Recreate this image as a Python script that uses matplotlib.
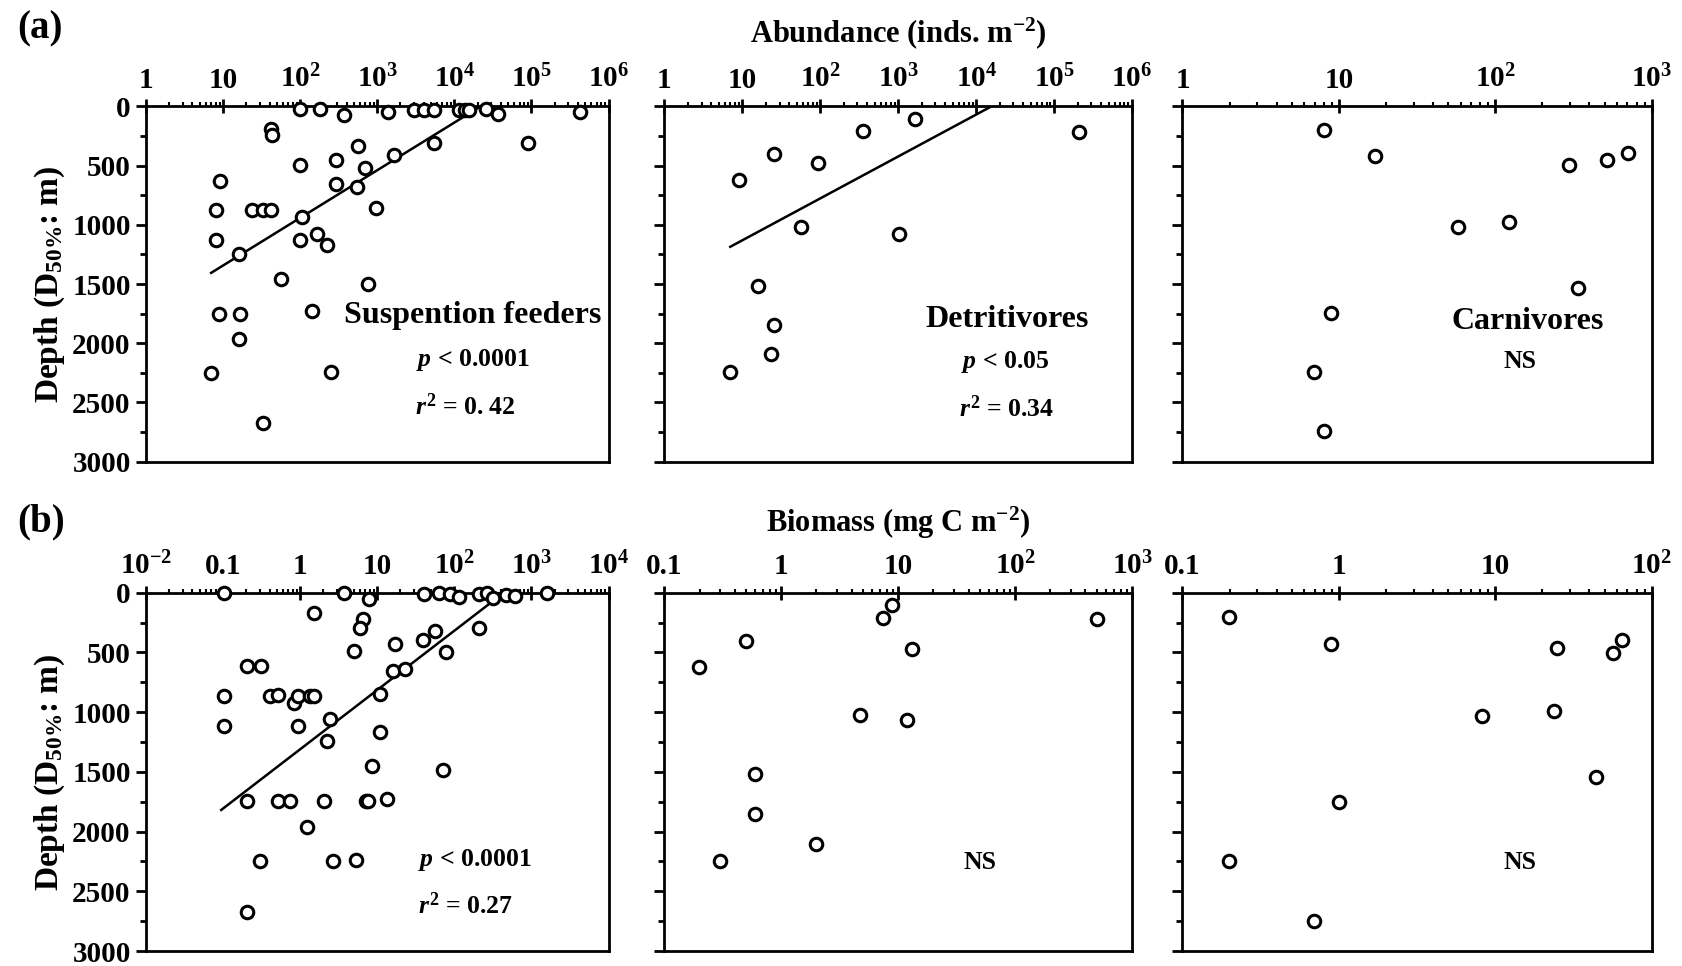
import matplotlib
matplotlib.use("Agg")
import matplotlib.pyplot as plt
from matplotlib.ticker import LogLocator, NullFormatter, FixedLocator, FixedFormatter

plt.rcParams["font.family"] = "Liberation Serif"
plt.rcParams["font.weight"] = "bold"
plt.rcParams["axes.labelweight"] = "bold"
plt.rcParams["mathtext.fontset"] = "custom"
plt.rcParams["mathtext.rm"] = "Liberation Serif:bold"
plt.rcParams["mathtext.bf"] = "Liberation Serif:bold"
plt.rcParams["mathtext.it"] = "Liberation Serif:italic:bold"
plt.rcParams["mathtext.default"] = "rm"

# ---- (a) abundance ----
susp_ab_x = [98, 183, 365, 1380, 2970, 3980, 5480, 11500, 13700, 15400, 25500, 36400, 420000,
             42, 43, 560, 5480, 90000, 1650, 293, 100, 690, 9.1, 293, 547,
             8.0, 24, 33, 42, 975, 107, 8.0, 100, 165, 224, 15.9, 56, 760,
             141, 8.9, 16.8, 15.9, 7.0, 251, 33]
susp_ab_y = [25, 20, 75, 48, 34, 28, 34, 34, 28, 28, 22, 62, 48,
             188, 245, 335, 309, 309, 413, 450, 498, 517, 633, 652, 680,
             877, 877, 877, 877, 855, 933, 1130, 1130, 1074, 1175, 1251, 1459, 1496,
             1729, 1749, 1749, 1965, 2249, 2241, 2671]
susp_ab_fit_x = [7.0, 22000]
susp_ab_fit_y = [1406, 0]

detr_ab_x = [1660, 355, 209000, 25.8, 93.6, 9.0, 56.5, 1010, 16, 25.8, 23, 6.9]
detr_ab_y = [110, 211, 216, 405, 475, 624, 1021, 1074, 1518, 1847, 2094, 2241]
detr_ab_fit_x = [7.0, 15800]
detr_ab_fit_y = [1186, 0]

carn_ab_x = [8.0, 17, 296, 515, 707, 58, 122, 336, 8.95, 6.9, 8.0]
carn_ab_y = [197, 419, 492, 450, 391, 1023, 976, 1532, 1743, 2241, 2741]

# ---- (b) biomass ----
susp_bm_x = [0.104, 3.73, 7.7, 40.8, 63.5, 87, 115, 210, 264, 316, 467, 616, 1590,
             1.53, 6.5, 6.0, 56, 210, 39, 17, 4.95, 78, 0.203, 0.309, 15.9, 23,
             0.104, 0.41, 0.52, 0.83, 0.93, 1.34, 1.5, 10.7, 2.46, 0.104, 0.93, 11,
             2.26, 8.5, 71, 0.205, 0.52, 0.73, 2.05, 7.1, 7.6, 13.4, 1.23,
             0.305, 2.7, 5.26, 0.205]
susp_bm_y = [5, 5, 56, 8, 3, 8, 39, 15, 5, 48, 20, 28, 5,
             174, 224, 299, 319, 294, 397, 434, 487, 501, 613, 613, 655, 641,
             868, 868, 854, 921, 868, 868, 868, 845, 1061, 1120, 1120, 1167,
             1245, 1453, 1483, 1746, 1746, 1746, 1746, 1746, 1746, 1727, 1959,
             2245, 2245, 2239, 2670]
susp_bm_fit_x = [0.0946, 400]
susp_bm_fit_y = [1819, 20]

detr_bm_x = [8.9, 7.46, 500, 0.495, 13.0, 0.199, 4.71, 11.9, 0.60, 0.60, 1.98, 0.298]
detr_bm_y = [103, 209, 220, 401, 474, 621, 1022, 1070, 1521, 1855, 2100, 2248]

carn_bm_x = [0.198, 0.89, 24.8, 56.9, 64.7, 8.2, 23.6, 44.3, 1.0, 0.198, 0.69]
carn_bm_y = [207, 433, 460, 502, 400, 1034, 987, 1547, 1756, 2247, 2749]

ab_ticks_6 = [1, 10, 1e2, 1e3, 1e4, 1e5, 1e6]
ab_labels_6 = ["1", "10", "10$^{2}$", "10$^{3}$", "10$^{4}$", "10$^{5}$", "10$^{6}$"]
ab_ticks_3 = [1, 10, 1e2, 1e3]
ab_labels_3 = ["1", "10", "10$^{2}$", "10$^{3}$"]
bm_ticks_1 = [1e-2, 0.1, 1, 10, 1e2, 1e3, 1e4]
bm_labels_1 = ["10$^{-2}$", "0.1", "1", "10", "10$^{2}$", "10$^{3}$", "10$^{4}$"]
bm_ticks_2 = [0.1, 1, 10, 1e2, 1e3]
bm_labels_2 = ["0.1", "1", "10", "10$^{2}$", "10$^{3}$"]
bm_ticks_3 = [0.1, 1, 10, 1e2]
bm_labels_3 = ["0.1", "1", "10", "10$^{2}$"]

depth_ticks = [0, 500, 1000, 1500, 2000, 2500, 3000]

fig = plt.figure(figsize=(16.82, 9.66), dpi=100)

lefts = [0.0868, 0.395, 0.703]
widths = [0.275, 0.278, 0.279]


def make_panel(col, bottom, height, ticks, labels, show_y):
  ax = fig.add_axes([lefts[col], bottom, widths[col], height])
  ax.set_xscale("log")
  ax.set_xlim(ticks[0], ticks[-1])
  ax.set_ylim(3000, 0)
  ax.xaxis.tick_top()
  ax.xaxis.set_major_locator(FixedLocator(ticks))
  ax.xaxis.set_major_formatter(FixedFormatter(labels))
  ax.xaxis.set_minor_locator(LogLocator(base=10, subs=range(2, 10), numticks=20))
  ax.xaxis.set_minor_formatter(NullFormatter())
  ax.set_yticks(depth_ticks)
  ax.set_yticks([250, 750, 1250, 1750, 2250, 2750], minor=True)
  if not show_y:
    ax.set_yticklabels([])
  ax.tick_params(axis="x", which="major", direction="inout", length=10, width=2,
                 labelsize=21, pad=4)
  ax.tick_params(axis="x", which="minor", direction="out", length=3, width=1.5)
  ax.tick_params(axis="y", which="major", direction="out", length=7, width=2,
                 labelsize=21, pad=4)
  ax.tick_params(axis="y", which="minor", direction="out", length=4, width=2)
  for s in ax.spines.values():
    s.set_linewidth(2)
  return ax


def scatter(ax, x, y):
  ax.plot(x, y, "o", ms=9, mfc="white", mec="black", mew=2.2, clip_on=False, zorder=5)


def fit(ax, x, y):
  ax.plot(x, y, "-", color="black", lw=1.8, zorder=4)


top_h = 0.368
top_b = 0.522
bot_h = 0.371
bot_b = 0.0155

ylab = "Depth (D$_{50\\%}$: m)"

ax = make_panel(0, top_b, top_h, ab_ticks_6, ab_labels_6, True)
fit(ax, susp_ab_fit_x, susp_ab_fit_y)
scatter(ax, susp_ab_x, susp_ab_y)
ax.set_ylabel(ylab, fontsize=24, labelpad=4)
ax.text(0.706, 0.41, "Suspention feeders", transform=ax.transAxes, ha="center",
        va="center", fontsize=23)
ax.text(0.706, 0.286, "$\\mathit{p}$ < 0.0001", transform=ax.transAxes, ha="center",
        va="center", fontsize=18.5)
ax.text(0.69, 0.154, "$\\mathit{r}^{2}$ = 0. 42", transform=ax.transAxes, ha="center",
        va="center", fontsize=18.5)

ax = make_panel(1, top_b, top_h, ab_ticks_6, ab_labels_6, False)
fit(ax, detr_ab_fit_x, detr_ab_fit_y)
scatter(ax, detr_ab_x, detr_ab_y)
ax.set_title("Abundance (inds. m$^{-2}$)", fontsize=22, pad=46, fontweight="bold")
ax.text(0.733, 0.40, "Detritivores", transform=ax.transAxes, ha="center",
        va="center", fontsize=23)
ax.text(0.728, 0.28, "$\\mathit{p}$ < 0.05", transform=ax.transAxes, ha="center",
        va="center", fontsize=18.5)
ax.text(0.732, 0.148, "$\\mathit{r}^{2}$ = 0.34", transform=ax.transAxes, ha="center",
        va="center", fontsize=18.5)

ax = make_panel(2, top_b, top_h, ab_ticks_3, ab_labels_3, False)
scatter(ax, carn_ab_x, carn_ab_y)
ax.text(0.735, 0.395, "Carnivores", transform=ax.transAxes, ha="center",
        va="center", fontsize=23)
ax.text(0.72, 0.283, "NS", transform=ax.transAxes, ha="center", va="center", fontsize=18.5)

ax = make_panel(0, bot_b, bot_h, bm_ticks_1, bm_labels_1, True)
fit(ax, susp_bm_fit_x, susp_bm_fit_y)
scatter(ax, susp_bm_x, susp_bm_y)
ax.set_ylabel(ylab, fontsize=24, labelpad=4)
ax.text(0.71, 0.255, "$\\mathit{p}$ < 0.0001", transform=ax.transAxes, ha="center",
        va="center", fontsize=18.5)
ax.text(0.69, 0.126, "$\\mathit{r}^{2}$ = 0.27", transform=ax.transAxes, ha="center",
        va="center", fontsize=18.5)

ax = make_panel(1, bot_b, bot_h, bm_ticks_2, bm_labels_2, False)
scatter(ax, detr_bm_x, detr_bm_y)
ax.set_title("Biomass (mg C m$^{-2}$)", fontsize=22, pad=44, fontweight="bold")
ax.text(0.674, 0.246, "NS", transform=ax.transAxes, ha="center", va="center", fontsize=18.5)

ax = make_panel(2, bot_b, bot_h, bm_ticks_3, bm_labels_3, False)
scatter(ax, carn_bm_x, carn_bm_y)
ax.text(0.72, 0.246, "NS", transform=ax.transAxes, ha="center", va="center", fontsize=18.5)

fig.text(0.010, 0.97, "(a)", fontsize=28, va="center", ha="left")
fig.text(0.010, 0.46, "(b)", fontsize=28, va="center", ha="left")

fig.savefig("out.png", dpi=100)
